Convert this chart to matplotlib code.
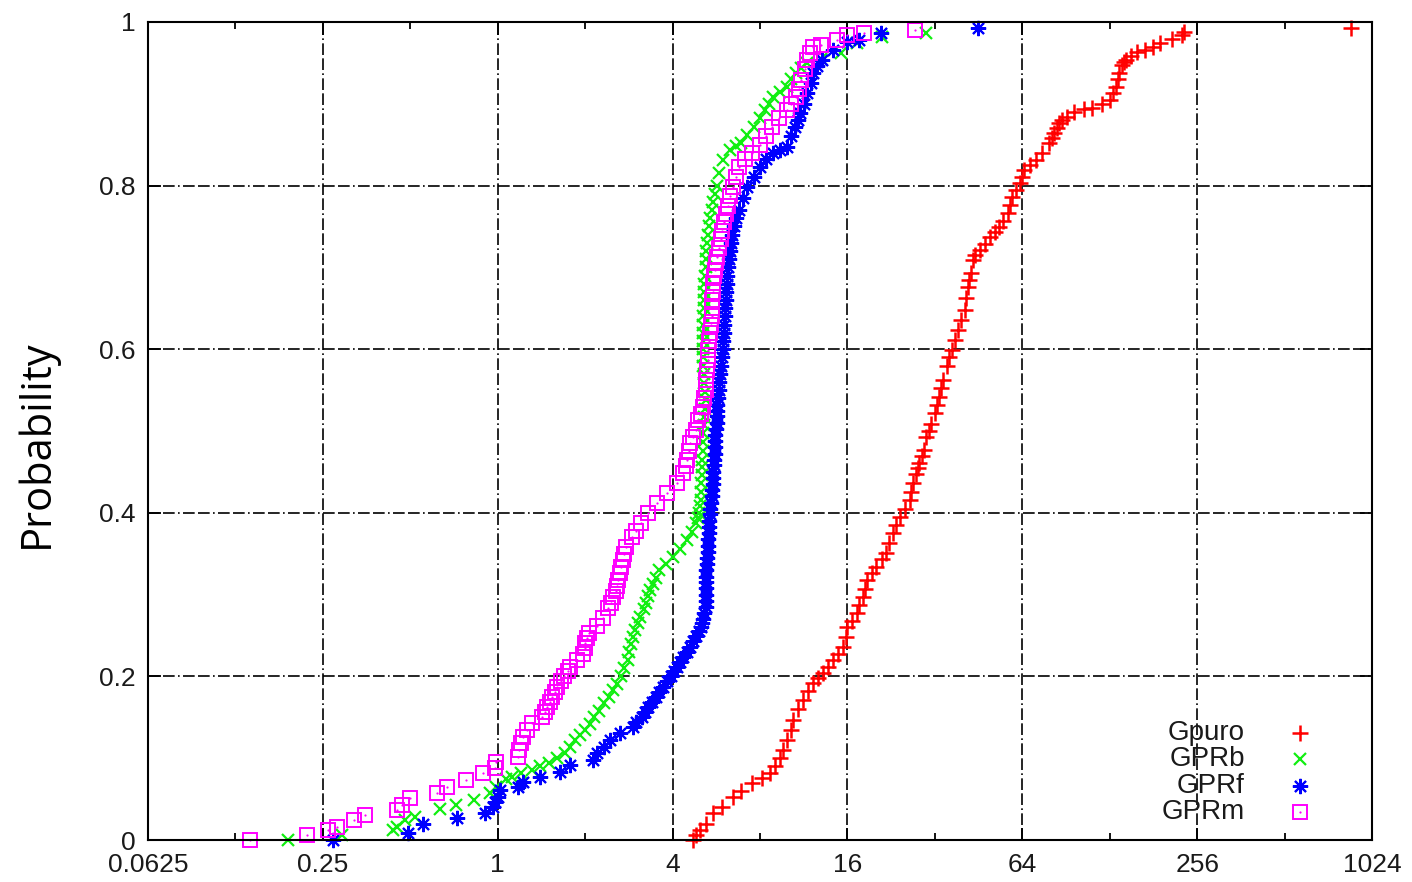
import matplotlib
matplotlib.use("Agg")
import matplotlib.pyplot as plt
from matplotlib.ticker import FixedLocator, FixedFormatter, NullFormatter

gpuro = [(4.69, 0.0), (4.8, 0.006), (4.96, 0.012), (5.2, 0.02), (5.49, 0.033), (5.9, 0.04),
         (6.44, 0.053), (6.9, 0.06), (7.5, 0.07), (8.1, 0.076), (8.66, 0.082), (9.0, 0.09),
         (9.4, 0.10), (9.6, 0.11), (9.9, 0.122), (10.2, 0.135), (10.4, 0.147), (10.8, 0.16),
         (11.25, 0.171), (11.7, 0.182), (12.2, 0.192), (12.7, 0.198), (13.2, 0.204),
         (13.7, 0.212), (14.3, 0.22), (14.8, 0.228), (15.4, 0.236), (15.8, 0.248), (16.0, 0.26),
         (16.6, 0.268), (17.2, 0.277), (17.6, 0.287), (18.1, 0.297), (18.4, 0.307),
         (18.7, 0.318), (19.4, 0.326), (20.1, 0.334), (21.0, 0.343), (21.8, 0.351),
         (22.3, 0.363), (22.9, 0.375), (23.5, 0.385), (24.2, 0.395), (25.2, 0.405),
         (26.2, 0.416), (26.5, 0.426), (26.9, 0.436), (27.6, 0.448), (28.0, 0.455),
         (28.3, 0.461), (29.0, 0.469), (29.4, 0.477), (29.9, 0.493), (30.5, 0.5), (31.0, 0.508),
         (32.0, 0.522), (32.5, 0.532), (33.0, 0.542), (33.5, 0.552), (34.1, 0.562),
         (35.3, 0.58), (35.9, 0.59), (36.6, 0.599), (37.4, 0.611), (38.3, 0.623),
         (39.5, 0.636), (40.6, 0.648), (41.0, 0.662), (41.6, 0.676), (42.0, 0.685),
         (42.5, 0.693), (43.2, 0.709), (44.0, 0.715), (45.6, 0.721), (47.5, 0.729),
         (49.5, 0.737), (51.5, 0.743), (53.4, 0.749), (55.0, 0.757), (57.1, 0.766),
         (58.2, 0.776), (59.2, 0.786), (61.0, 0.795), (62.8, 0.803), (63.9, 0.811),
         (65.0, 0.819), (68.0, 0.825), (71.5, 0.831), (75.0, 0.84), (79.1, 0.852),
         (81.0, 0.858), (82.5, 0.864), (84.0, 0.87), (85.8, 0.876), (88.0, 0.88),
         (91.5, 0.884), (96.6, 0.89), (104, 0.893), (111.5, 0.895), (120, 0.9), (128, 0.905),
         (131, 0.913), (135, 0.921), (136.5, 0.93), (138, 0.938), (141, 0.948), (143, 0.951),
         (146, 0.954), (152, 0.958), (158.6, 0.963), (169, 0.966), (180, 0.97), (190, 0.974),
         (210, 0.979), (227, 0.984), (230, 0.988), (870, 0.993)]

gprb = [(0.19, 0.0), (0.29, 0.006), (0.436, 0.012), (0.45, 0.016), (0.48, 0.024), (0.52, 0.028),
        (0.634, 0.038), (0.72, 0.043), (0.83, 0.049), (0.94, 0.058), (0.99, 0.065),
        (1.07, 0.074), (1.12, 0.077), (1.2, 0.082), (1.31, 0.086), (1.4, 0.09), (1.5, 0.094),
        (1.6, 0.1), (1.7, 0.106), (1.78, 0.114), (1.85, 0.122), (1.92, 0.128), (2.0, 0.134),
        (2.08, 0.142), (2.15, 0.15), (2.24, 0.158), (2.33, 0.167), (2.42, 0.175), (2.5, 0.183),
        (2.58, 0.191), (2.65, 0.2), (2.72, 0.21), (2.8, 0.22), (2.84, 0.23), (2.87, 0.24),
        (2.93, 0.248), (2.98, 0.257), (3.04, 0.265), (3.1, 0.273), (3.18, 0.282), (3.25, 0.29),
        (3.3, 0.298), (3.35, 0.306), (3.42, 0.313), (3.5, 0.32), (3.6, 0.33), (3.8, 0.338),
        (4.0, 0.346), (4.25, 0.356), (4.5, 0.367), (4.65, 0.377), (4.8, 0.387), (4.9, 0.394),
        (4.95, 0.4), (4.98, 0.408), (5.0, 0.416), (5.01, 0.426), (5.02, 0.436), (5.04, 0.446),
        (5.05, 0.456), (5.07, 0.465), (5.08, 0.475), (5.09, 0.486), (5.1, 0.497), (5.12, 0.507),
        (5.15, 0.517), (5.18, 0.527), (5.2, 0.538), (5.18, 0.548), (5.15, 0.559), (5.12, 0.57),
        (5.1, 0.58), (5.1, 0.59), (5.1, 0.6), (5.1, 0.61), (5.1, 0.62), (5.1, 0.63), (5.1, 0.64),
        (5.12, 0.65), (5.15, 0.66), (5.15, 0.67), (5.15, 0.68), (5.18, 0.69), (5.2, 0.7),
        (5.2, 0.71), (5.2, 0.72), (5.25, 0.73), (5.3, 0.74), (5.35, 0.75), (5.4, 0.76),
        (5.45, 0.77), (5.5, 0.78), (5.58, 0.79), (5.67, 0.8), (5.8, 0.815), (5.95, 0.831),
        (6.3, 0.843), (6.6, 0.848), (6.9, 0.852), (7.2, 0.862), (7.6, 0.872), (8.0, 0.882),
        (8.3, 0.892), (8.6, 0.9), (8.9, 0.908), (9.4, 0.914), (9.9, 0.92), (10.2, 0.93),
        (10.6, 0.938), (11.1, 0.944), (11.6, 0.95), (13.0, 0.955), (15.2, 0.962), (17.2, 0.974),
        (21.0, 0.982), (29.9, 0.987)]

gprf = [(0.27, 0.0), (0.49, 0.008), (0.555, 0.02), (0.725, 0.027), (0.906, 0.033), (0.96, 0.04),
        (0.98, 0.047), (1.0, 0.053), (1.02, 0.061), (1.17, 0.065), (1.22, 0.071), (1.4, 0.077),
        (1.64, 0.083), (1.77, 0.092), (2.13, 0.098), (2.2, 0.106), (2.32, 0.114), (2.44, 0.122),
        (2.64, 0.131), (2.92, 0.138), (3.0, 0.144), (3.15, 0.15), (3.22, 0.157), (3.3, 0.163),
        (3.4, 0.169), (3.5, 0.175), (3.6, 0.181), (3.7, 0.187), (3.82, 0.194), (3.95, 0.2),
        (4.05, 0.206), (4.14, 0.212), (4.25, 0.218), (4.35, 0.224), (4.48, 0.23), (4.6, 0.236),
        (4.7, 0.243), (4.8, 0.25), (4.92, 0.255), (5.0, 0.26), (5.05, 0.265), (5.1, 0.27),
        (5.15, 0.278), (5.2, 0.285), (5.22, 0.292), (5.22, 0.3), (5.2, 0.308), (5.2, 0.315),
        (5.22, 0.322), (5.22, 0.33), (5.24, 0.338), (5.25, 0.345), (5.28, 0.352), (5.3, 0.36),
        (5.3, 0.368), (5.32, 0.375), (5.34, 0.383), (5.35, 0.39), (5.38, 0.398), (5.4, 0.405),
        (5.42, 0.412), (5.45, 0.42), (5.48, 0.428), (5.5, 0.435), (5.5, 0.442), (5.52, 0.45),
        (5.54, 0.458), (5.55, 0.465), (5.58, 0.472), (5.6, 0.48), (5.6, 0.488), (5.62, 0.495),
        (5.65, 0.502), (5.68, 0.51), (5.7, 0.518), (5.7, 0.525), (5.71, 0.532), (5.72, 0.54),
        (5.76, 0.55), (5.8, 0.56), (5.83, 0.57), (5.86, 0.58), (5.9, 0.59), (5.95, 0.6),
        (5.98, 0.61), (6.0, 0.62), (6.02, 0.63), (6.05, 0.64), (6.08, 0.65), (6.1, 0.66),
        (6.12, 0.67), (6.15, 0.68), (6.17, 0.69), (6.19, 0.7), (6.25, 0.71), (6.3, 0.72),
        (6.35, 0.73), (6.4, 0.74), (6.5, 0.75), (6.6, 0.76), (6.75, 0.77), (7.0, 0.785),
        (7.2, 0.798), (7.6, 0.81), (8.0, 0.823), (8.4, 0.832), (8.87, 0.84), (9.4, 0.843),
        (9.9, 0.847), (10.2, 0.86), (10.56, 0.872), (10.8, 0.88), (10.95, 0.889), (11.3, 0.9),
        (11.6, 0.913), (12.0, 0.925), (12.2, 0.938), (12.6, 0.946), (13.1, 0.954), (14.3, 0.966),
        (16.0, 0.975), (17.6, 0.978), (20.8, 0.987), (45.0, 0.993)]

gprm = [(0.14, 0.0), (0.22, 0.006), (0.26, 0.012), (0.28, 0.016), (0.32, 0.024), (0.35, 0.03),
        (0.45, 0.037), (0.47, 0.043), (0.5, 0.051), (0.62, 0.057), (0.67, 0.065), (0.78, 0.073),
        (0.89, 0.082), (0.98, 0.088), (0.99, 0.095), (1.17, 0.101), (1.18, 0.11), (1.2, 0.118),
        (1.22, 0.126), (1.26, 0.134), (1.31, 0.143), (1.42, 0.15), (1.45, 0.157), (1.48, 0.163),
        (1.51, 0.169), (1.54, 0.175), (1.57, 0.181), (1.6, 0.187), (1.65, 0.194), (1.69, 0.2),
        (1.74, 0.206), (1.78, 0.212), (1.87, 0.22), (1.97, 0.228), (1.99, 0.235), (2.0, 0.241),
        (2.03, 0.247), (2.07, 0.253), (2.2, 0.262), (2.3, 0.272), (2.4, 0.284), (2.45, 0.29),
        (2.5, 0.297), (2.55, 0.304), (2.58, 0.31), (2.6, 0.318), (2.63, 0.326), (2.66, 0.334),
        (2.7, 0.342), (2.73, 0.35), (2.76, 0.358), (2.9, 0.37), (3.0, 0.378), (3.12, 0.387),
        (3.3, 0.4), (3.54, 0.412), (3.82, 0.424), (4.15, 0.436), (4.35, 0.449), (4.45, 0.457),
        (4.5, 0.465), (4.55, 0.475), (4.6, 0.485), (4.7, 0.493), (4.8, 0.501), (4.9, 0.513),
        (5.0, 0.521), (5.1, 0.529), (5.15, 0.54), (5.2, 0.55), (5.22, 0.562), (5.25, 0.575),
        (5.28, 0.587), (5.3, 0.599), (5.35, 0.61), (5.4, 0.62), (5.42, 0.63), (5.45, 0.64),
        (5.46, 0.65), (5.48, 0.66), (5.49, 0.67), (5.5, 0.681), (5.55, 0.689), (5.6, 0.697),
        (5.65, 0.705), (5.7, 0.713), (5.78, 0.724), (5.85, 0.735), (5.92, 0.745), (6.0, 0.755),
        (6.1, 0.765), (6.2, 0.775), (6.32, 0.787), (6.44, 0.798), (6.6, 0.81), (6.75, 0.823),
        (7.1, 0.832), (7.5, 0.84), (8.0, 0.85), (8.4, 0.86), (8.8, 0.872), (9.3, 0.882),
        (9.9, 0.892), (10.2, 0.9), (10.6, 0.908), (10.9, 0.918), (11.1, 0.929), (11.4, 0.942),
        (11.6, 0.954), (11.9, 0.962), (12.2, 0.97), (13.0, 0.972), (14.7, 0.978), (16.0, 0.984),
        (18.2, 0.987), (27.3, 0.99)]

series_names = ["Gpuro", "GPRb", "GPRf", "GPRm"]
x_ticks = [0.0625, 0.25, 1, 4, 16, 64, 256, 1024]
x_ticklabels = ["0.0625", "0.25", "1", "4", "16", "64", "256", "1024"]
x_minor = [0.125, 0.5, 2, 8, 32, 128, 512]
y_ticks = [0, 0.2, 0.4, 0.6, 0.8, 1]
y_ticklabels = ["0", "0.2", "0.4", "0.6", "0.8", "1"]

red, green, blue, magenta = "#ff0000", "#11ee11", "#0000ff", "#ff00ff"
star = (8, 2, 0)
styles = [
    dict(marker="+", ms=11, mew=1.8, color=red),
    dict(marker="x", ms=9, mew=1.6, color=green),
    dict(marker=star, ms=11, mew=1.5, color=blue),
    dict(marker="s", ms=9.5, mew=1.4, mfc="none", mec=magenta),
]
dot = dict(marker="o", ms=1.6, mew=0, color=magenta)

fig = plt.figure(figsize=(14.12, 8.82), dpi=100)
ax = fig.add_axes([0.1048, 0.0476, 0.8669, 0.9275])

for pts, st in zip([gpuro, gprb, gprf, gprm], styles):
    xs, ys = zip(*pts)
    ax.plot(xs, ys, ls="none", clip_on=False, **st)
xs, ys = zip(*gprm)
ax.plot(xs, ys, ls="none", clip_on=False, **dot)

ax.set_xscale("log", base=2)
ax.set_xlim(0.0625, 1024)
ax.set_ylim(0, 1)
ax.xaxis.set_major_locator(FixedLocator(x_ticks))
ax.xaxis.set_major_formatter(FixedFormatter(x_ticklabels))
ax.xaxis.set_minor_locator(FixedLocator(x_minor))
ax.xaxis.set_minor_formatter(NullFormatter())
ax.yaxis.set_major_locator(FixedLocator(y_ticks))
ax.yaxis.set_major_formatter(FixedFormatter(y_ticklabels))

ax.grid(True, which="major", color="black", lw=1.2, ls=(0, (7, 2, 7, 2, 1, 2)))
ax.tick_params(which="major", direction="in", length=9, width=1.3, top=True, right=True,
               labelsize=19, pad=9, colors="black", labelcolor="#1a1a1a")
ax.tick_params(which="minor", direction="in", length=5, width=1.3, top=True, right=True)
for lbl in ax.get_xticklabels() + ax.get_yticklabels():
    lbl.set_fontfamily("Liberation Sans")
for sp in ax.spines.values():
    sp.set_linewidth(1.5)

ax.set_ylabel("Probability", fontsize=30, fontfamily="Open Sans", color="black")
ax.yaxis.set_label_coords(-0.074, 0.485)

# gnuplot-style key: right-aligned labels with the marker to their right
key_y = [0.131, 0.099, 0.066, 0.034]
for name, st, ky in zip(series_names, styles, key_y):
    ax.text(0.896, ky, name, transform=ax.transAxes, ha="right", va="center",
            fontsize=20, fontfamily="Liberation Sans", color="#1a1a1a")
    ax.plot([0.941], [ky], ls="none", transform=ax.transAxes, clip_on=False, **st)
ax.plot([0.941], [key_y[3]], ls="none", transform=ax.transAxes, clip_on=False, **dot)

fig.savefig("out.png", dpi=100)
